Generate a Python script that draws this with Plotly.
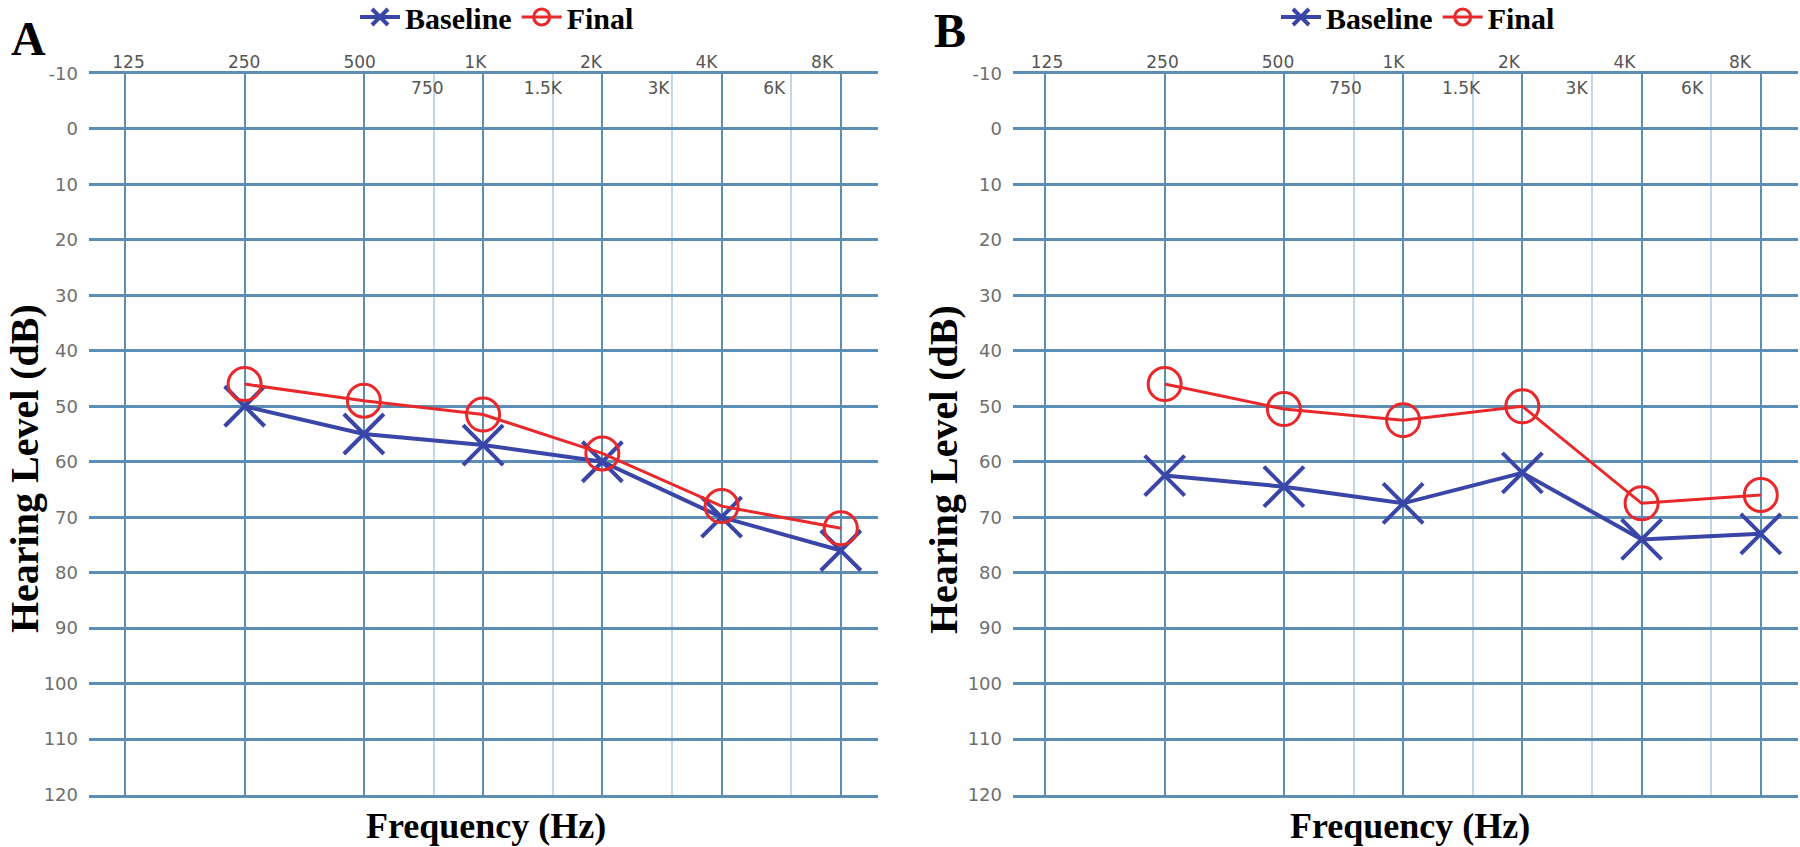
import plotly.graph_objects as go

# ---------------- data ----------------
freqs = [250, 500, 1000, 2000, 4000, 8000]
a_baseline = [50, 55, 57, 60, 70, 76]
a_final = [46, 49, 51.5, 58.5, 68, 72]
b_baseline = [62.5, 64.5, 67.5, 62, 74, 73]
b_final = [46, 50.5, 52.5, 50, 67.5, 66]

major_freqs = [125, 250, 500, 1000, 2000, 4000, 8000]
major_labels = ["125", "250", "500", "1K", "2K", "4K", "8K"]
mid_freqs = [750, 1500, 3000, 6000]
mid_labels = ["750", "1.5K", "3K", "6K"]
db_ticks = list(range(-10, 121, 10))
db_labels = [str(v) for v in db_ticks]

# ---------------- style ----------------
W, H = 1800, 847
BLUE = "#3a45a8"
RED = "#e8282b"
GRID = "#5b8db5"
MINOR = "#c3d6e6"
SERIF = "Liberation Serif, Times New Roman, serif"
SANS = "DejaVu Sans, Verdana, sans-serif"


def px(x):   # pixel -> paper fraction
    return x / W


def py(y):
    return 1 - y / H


dom_a = [px(89), px(878)]
dom_b = [px(1013), px(1798)]
dom_y = [py(794.5), py(73.5)]

fig = go.Figure()


def add_pair(xa, ya, base, fin, legend):
    fig.add_trace(go.Scatter(
        x=freqs, y=base, name="Baseline", mode="lines+markers",
        xaxis=xa, yaxis=ya, legend=legend,
        line=dict(color=BLUE, width=4),
        marker=dict(symbol="x-thin-open", size=40, color=BLUE,
                    line=dict(color=BLUE, width=4)),
    ))
    fig.add_trace(go.Scatter(
        x=freqs, y=fin, name="Final", mode="lines+markers",
        xaxis=xa, yaxis=ya, legend=legend,
        line=dict(color=RED, width=3),
        marker=dict(symbol="circle-open", size=33, color=RED,
                    line=dict(color=RED, width=3)),
    ))


add_pair("x", "y", a_baseline, a_final, "legend")
add_pair("x2", "y2", b_baseline, b_final, "legend2")

# invisible anchors so the frequency-label axes get drawn
for xa, ya, vals in [("x3", "y", major_freqs), ("x4", "y2", major_freqs),
                     ("x5", "y", mid_freqs), ("x6", "y2", mid_freqs)]:
    fig.add_trace(go.Scatter(x=vals, y=[None] * len(vals), xaxis=xa, yaxis=ya,
                             mode="markers", showlegend=False, hoverinfo="skip"))


def main_x(domain, rng, anchor):
    return dict(
        type="log", domain=domain, range=rng, anchor=anchor,
        tickmode="array", tickvals=major_freqs, showticklabels=False,
        ticks="", showgrid=True, gridcolor=GRID, gridwidth=2,
        minor=dict(tickmode="array", tickvals=mid_freqs, showgrid=True,
                   gridcolor=MINOR, gridwidth=2, ticks=""),
        showline=True, linecolor=GRID, linewidth=2.5, mirror=True,
        zeroline=False, fixedrange=True,
    )


def main_y(anchor):
    return dict(
        domain=dom_y, range=[120, -10], anchor=anchor,
        tickmode="array", tickvals=db_ticks, ticktext=db_labels,
        ticks="", ticklabelstandoff=10,
        tickfont=dict(family=SANS, size=18, color="#6e6e6e"),
        showgrid=True, gridcolor=GRID, gridwidth=2.5,
        zeroline=False, showline=False, fixedrange=True,
    )


def label_x(over, rng, anchor, vals, texts, position=None):
    d = dict(
        type="log", overlaying=over, side="top", range=rng, anchor=anchor,
        tickmode="array", tickvals=vals, ticktext=texts, ticks="",
        showgrid=False, zeroline=False, showline=False,
        tickfont=dict(family=SANS, size=17, color="#555555"),
        ticklabelstandoff=1, fixedrange=True,
    )
    if position is not None:
        d["anchor"] = "free"
        d["position"] = position
    return d


inner_pos = py(98)
rng_a_lab = [1.994, 4.0487]
rng_b_lab = [2.0083, 4.0542]

legend_common = dict(orientation="h", y=py(-9), yanchor="top", xanchor="center",
                     itemwidth=40, itemsizing="trace",
                     bgcolor="rgba(0,0,0,0)",
                     font=dict(family=SERIF, size=30, color="black",
                               weight="bold"))

fig.update_layout(
    width=W, height=H,
    margin=dict(l=0, r=0, t=0, b=0, autoexpand=False),
    paper_bgcolor="white", plot_bgcolor="white",
    xaxis=main_x(dom_a, [2.005, 3.997], "y"),
    yaxis=main_y("x"),
    xaxis2=main_x(dom_b, [2.015, 3.997], "y2"),
    yaxis2=main_y("x2"),
    xaxis3=label_x("x", rng_a_lab, "y", major_freqs, major_labels),
    xaxis4=label_x("x2", rng_b_lab, "y2", major_freqs, major_labels),
    xaxis5=label_x("x", rng_a_lab, "y", mid_freqs, mid_labels, inner_pos),
    xaxis6=label_x("x2", rng_b_lab, "y2", mid_freqs, mid_labels, inner_pos),
    legend=dict(x=px(497), **legend_common),
    legend2=dict(x=px(1418), **legend_common),
    hovermode=False,
)

title_font = dict(family=SERIF, size=40, color="black")
xtitle_font = dict(family=SERIF, size=36, color="black")
panel_font = dict(family=SERIF, size=48, color="black")
ann = [
    dict(text="<b>A</b>", x=px(28), y=py(38), font=panel_font),
    dict(text="<b>B</b>", x=px(950), y=py(31), font=panel_font),
    dict(text="<b>Hearing Level (dB)</b>", x=px(24), y=py(469),
         textangle=-90, font=title_font),
    dict(text="<b>Hearing Level (dB)</b>", x=px(943), y=py(469),
         textangle=-90, font=title_font),
    dict(text="<b>Frequency (Hz)</b>", x=px(486), y=py(826), font=xtitle_font),
    dict(text="<b>Frequency (Hz)</b>", x=px(1410), y=py(826), font=xtitle_font),
]
for a in ann:
    fig.add_annotation(xref="paper", yref="paper", showarrow=False,
                       xanchor="center", yanchor="middle", **a)

fig.write_html("out.html",
               config={"displayModeBar": False},
               post_script="document.body.style.margin='0px';")
